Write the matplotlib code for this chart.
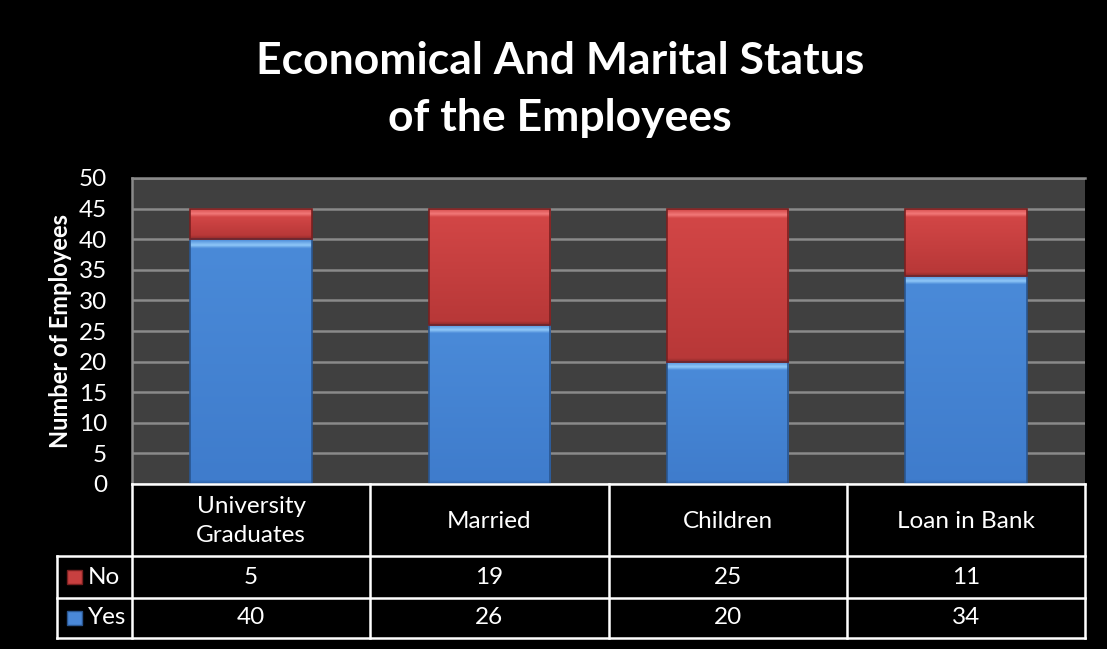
import numpy as np
import matplotlib
matplotlib.use("Agg")
import matplotlib.pyplot as plt
from matplotlib.colors import LinearSegmentedColormap
from matplotlib.patches import Rectangle

# ---------------------------------
# Data
# ---------------------------------
categories = ["University\nGraduates", "Married", "Children", "Loan in Bank"]
yes_values = [40, 26, 20, 34]
no_values = [5, 19, 25, 11]
series_names = ["No", "Yes"]
y_ticks = [0, 5, 10, 15, 20, 25, 30, 35, 40, 45, 50]

title = "Economical And Marital Status\nof the Employees"
y_label = "Number of Employees"

plt.rcParams["font.family"] = ["Lato", "DejaVu Sans"]


def bar_cmap(name, dark, body, light, hi, h):
    # thin highlight near the top, independent of segment height
    f = min(0.9 / h, 0.3)
    return LinearSegmentedColormap.from_list(name, [
        (0, dark), (min(0.6 / h, 0.2), body), (1 - 1.6 * f, light),
        (1 - f, hi), (1, light)])


# ---------------------------------
# Figure
# ---------------------------------
fig = plt.figure(figsize=(11.07, 6.49), dpi=100, facecolor="black")
ax = fig.add_axes([132 / 1107, 1 - 484 / 649, (1085 - 132) / 1107, (484 - 178) / 649])
ax.set_facecolor("#404040")

x = np.arange(len(categories))
bars_yes = ax.bar(x, yes_values, width=0.51, color="#4a88d8", zorder=3)
bars_no = ax.bar(x, no_values, width=0.51, bottom=yes_values, color="#c84040", zorder=3)

grad = np.linspace(0, 1, 256).reshape(-1, 1)
styles = [
    (bars_yes, ("#2f62a6", "#3f7ccc", "#4a8ad8", "#90c8f8"), "#2a5690"),
    (bars_no, ("#8e2a2a", "#b83838", "#d24646", "#f27878"), "#7a2020"),
]
for bars, cols, edge in styles:
    for k, b in enumerate(bars):
        x0, y0 = b.get_x(), b.get_y()
        w, h = b.get_width(), b.get_height()
        cmap = bar_cmap(f"c{k}{edge}", *cols, h)
        im = ax.imshow(grad, cmap=cmap, origin="lower", aspect="auto",
                       extent=(x0, x0 + w, y0, y0 + h), zorder=4)
        im.set_clip_path(b)
        ax.add_patch(Rectangle((x0, y0), w, h, fill=False, edgecolor=edge, linewidth=1.2, zorder=5))

ax.set_xlim(-0.5, len(categories) - 0.5)
ax.set_ylim(0, 50)
ax.set_yticks(y_ticks)
ax.set_yticklabels([str(t) for t in y_ticks], color="white", fontsize=17.5)
ax.set_xticks([])
ax.tick_params(axis="y", length=0, pad=18)
ax.grid(axis="y", color="#8a8a8a", linewidth=1.8, zorder=1)
for side in ["right", "bottom"]:
    ax.spines[side].set_visible(False)
for side in ["top", "left"]:
    ax.spines[side].set_color("#8a8a8a")
    ax.spines[side].set_linewidth(1.8)
ax.set_ylabel(y_label, color="white", fontsize=17, fontweight="bold", labelpad=5)

fig.text(0.506, 0.862, title, ha="center", va="center", color="white",
         fontsize=32, fontweight="bold", linespacing=1.5)

# ---------------------------------
# Data table
# ---------------------------------
tax = fig.add_axes([132 / 1107, 1 - 638 / 649, (1085 - 132) / 1107, (638 - 484) / 649])
tax.set_xlim(-0.5, len(categories) - 0.5)
tax.set_ylim(0, 154)
tax.axis("off")

row_edges = [154, 82, 40, 0]  # header / No / Yes
label_left = -0.5 - 75 / 238
lw = 1.8
col_edges = [i - 0.5 for i in range(len(categories) + 1)]

tax.plot([col_edges[0], col_edges[-1]], [row_edges[0]] * 2, color="white", lw=lw, clip_on=False)
for yv in row_edges[1:]:
    tax.plot([label_left, col_edges[-1]], [yv] * 2, color="white", lw=lw, clip_on=False)
for xv in col_edges:
    tax.plot([xv, xv], [row_edges[0], row_edges[-1]], color="white", lw=lw, clip_on=False)
tax.plot([label_left, label_left], [row_edges[1], row_edges[-1]], color="white", lw=lw, clip_on=False)

for i, cat in enumerate(categories):
    tax.text(i, (row_edges[0] + row_edges[1]) / 2 - 1, cat, ha="center", va="center",
             color="white", fontsize=17.5, linespacing=1.45)
    tax.text(i, (row_edges[1] + row_edges[2]) / 2, str(no_values[i]), ha="center", va="center",
             color="white", fontsize=17.5)
    tax.text(i, (row_edges[2] + row_edges[3]) / 2, str(yes_values[i]), ha="center", va="center",
             color="white", fontsize=17.5)

key_colors = ["#c84040", "#4a88d8"]
key_edges = ["#7a2020", "#2a5690"]
for r, name in enumerate(series_names):
    yc = (row_edges[r + 1] + row_edges[r + 2]) / 2
    tax.add_patch(Rectangle((label_left + 10 / 238, yc - 7), 15 / 238, 14,
                            facecolor=key_colors[r], edgecolor=key_edges[r], lw=1, clip_on=False))
    tax.text(label_left + 31 / 238, yc, name, ha="left", va="center", color="white", fontsize=17.5)

fig.savefig("out.png", dpi=100, facecolor="black")
